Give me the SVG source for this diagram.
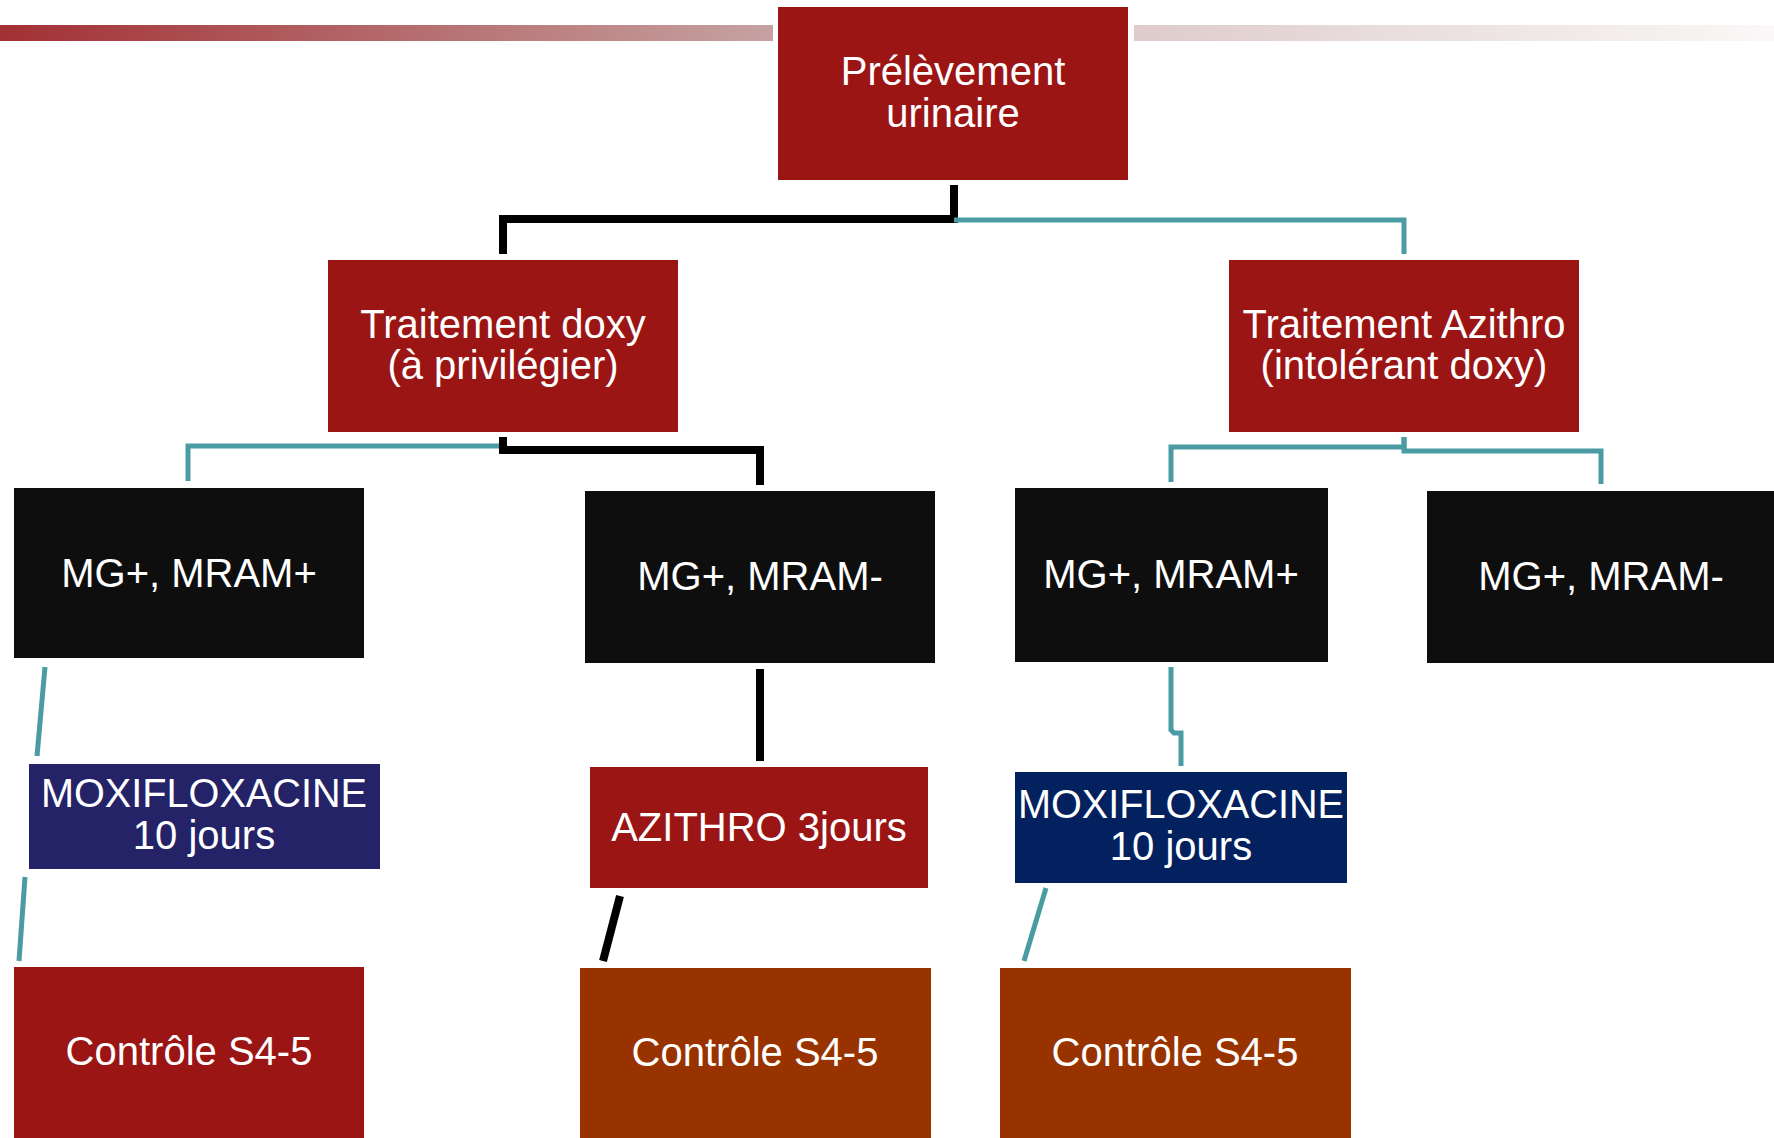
<svg xmlns="http://www.w3.org/2000/svg" width="1774" height="1138" viewBox="0 0 1774 1138">
  <defs>
    <linearGradient id="barLeft" x1="0" y1="0" x2="1" y2="0">
      <stop offset="0" stop-color="#A23034"/>
      <stop offset="1" stop-color="#C6A2A2"/>
    </linearGradient>
    <linearGradient id="barRight" x1="0" y1="0" x2="1" y2="0">
      <stop offset="0" stop-color="#DECBCB"/>
      <stop offset="1" stop-color="#FAF8F8"/>
    </linearGradient>
  </defs>
  <style>
    text { font-family: "Liberation Sans", Arial, sans-serif; font-size: 40px; fill: #FFFFFF; text-anchor: middle; }
    .red { fill: #9B1515; }
    .black { fill: #0E0E0E; }
    .navy1 { fill: #242368; }
    .navy2 { fill: #03215E; }
    .rust { fill: #983300; }
    .lk { fill: none; stroke: #000000; stroke-width: 8; }
    .lt { fill: none; stroke: #4A9BA3; stroke-width: 5; }
  </style>

  <rect width="1774" height="1138" fill="#FFFFFF"/>

  <!-- header bars -->
  <rect x="0" y="25" width="773" height="16" fill="url(#barLeft)"/>
  <rect x="1134" y="25" width="640" height="16" fill="url(#barRight)"/>

  <!-- connectors -->
  <g id="connectors">
    <path class="lk" d="M954,185 V219 H503 V254"/>
    <path class="lt" d="M954,220 H1404 V254"/>
    <path class="lt" d="M503,437 V446 H188 V481"/>
    <path class="lk" d="M503,437 V450 H760 V485"/>
    <path class="lt" d="M1404,437 V447 H1171 V482"/>
    <path class="lt" d="M1404,437 V451 H1601 V484"/>
    <path class="lt" d="M45,667 L37,756" stroke-width="6"/>
    <path class="lt" d="M25,877 L19,961" stroke-width="5"/>
    <path class="lk" d="M760,669 V761"/>
    <path class="lk" d="M620,896 L603,961"/>
    <path class="lt" d="M1171,667 V730 L1174,733 H1181 V766"/>
    <path class="lt" d="M1046,888 L1024,961"/>
  </g>

  <g id="n-prelevement">
    <rect class="red" x="778" y="7" width="350" height="173"/>
    <text x="953" y="85">Prélèvement</text>
    <text x="953" y="127">urinaire</text>
  </g>

  <g id="n-doxy">
    <rect class="red" x="328" y="260" width="350" height="172"/>
    <text x="503" y="338">Traitement doxy</text>
    <text x="503" y="379">(à privilégier)</text>
  </g>

  <g id="n-azithro">
    <rect class="red" x="1229" y="260" width="350" height="172"/>
    <text x="1404" y="338">Traitement Azithro</text>
    <text x="1404" y="379">(intolérant doxy)</text>
  </g>

  <g id="n-mg1">
    <rect class="black" x="14" y="488" width="350" height="170"/>
    <text x="189" y="587">MG+, MRAM+</text>
  </g>

  <g id="n-mg2">
    <rect class="black" x="585" y="491" width="350" height="172"/>
    <text x="760" y="590">MG+, MRAM-</text>
  </g>

  <g id="n-mg3">
    <rect class="black" x="1015" y="488" width="313" height="174"/>
    <text x="1171" y="588">MG+, MRAM+</text>
  </g>

  <g id="n-mg4">
    <rect class="black" x="1427" y="491" width="347" height="172"/>
    <text x="1601" y="590">MG+, MRAM-</text>
  </g>

  <g id="n-moxi1">
    <rect class="navy1" x="29" y="764" width="351" height="105"/>
    <text x="204" y="807" textLength="326" lengthAdjust="spacingAndGlyphs">MOXIFLOXACINE</text>
    <text x="204" y="849">10 jours</text>
  </g>

  <g id="n-azithro3">
    <rect class="red" x="590" y="767" width="338" height="121"/>
    <text x="759" y="841">AZITHRO 3jours</text>
  </g>

  <g id="n-moxi2">
    <rect class="navy2" x="1015" y="772" width="332" height="111"/>
    <text x="1181" y="818" textLength="326" lengthAdjust="spacingAndGlyphs">MOXIFLOXACINE</text>
    <text x="1181" y="860">10 jours</text>
  </g>

  <g id="n-ctrl1">
    <rect class="red" x="14" y="967" width="350" height="171"/>
    <text x="189" y="1065">Contrôle S4-5</text>
  </g>

  <g id="n-ctrl2">
    <rect class="rust" x="580" y="968" width="351" height="170"/>
    <text x="755" y="1066">Contrôle S4-5</text>
  </g>

  <g id="n-ctrl3">
    <rect class="rust" x="1000" y="968" width="351" height="170"/>
    <text x="1175" y="1066">Contrôle S4-5</text>
  </g>
</svg>
